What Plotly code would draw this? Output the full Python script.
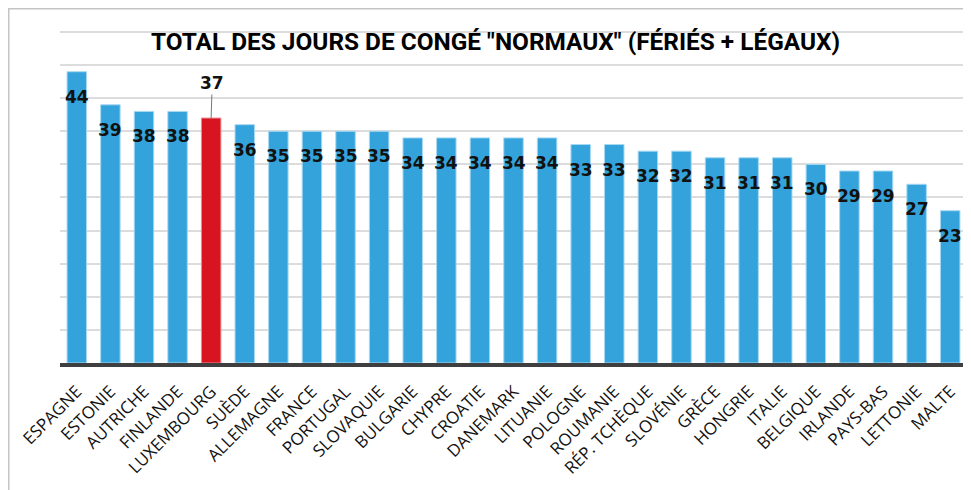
import plotly.graph_objects as go

countries = ["ESPAGNE", "ESTONIE", "AUTRICHE", "FINLANDE", "LUXEMBOURG", "SUÈDE", "ALLEMAGNE",
             "FRANCE", "PORTUGAL", "SLOVAQUIE", "BULGARIE", "CHYPRE", "CROATIE", "DANEMARK",
             "LITUANIE", "POLOGNE", "ROUMANIE", "RÉP. TCHÈQUE", "SLOVÉNIE", "GRÈCE", "HONGRIE",
             "ITALIE", "BELGIQUE", "IRLANDE", "PAYS-BAS", "LETTONIE", "MALTE"]
days = [44, 39, 38, 38, 37, 36, 35, 35, 35, 35, 34, 34, 34, 34, 34, 33, 33, 32, 32, 31, 31,
        31, 30, 29, 29, 27, 23]
highlight = "LUXEMBOURG"
title_text = 'TOTAL DES JOURS DE CONGÉ "NORMAUX" (FÉRIÉS + LÉGAUX)'

BLUE = "#34a3db"
RED = "#d7141f"
colors = [RED if c == highlight else BLUE for c in countries]
line_colors = ["#ee8c93" if c == highlight else "#a6d8f3" for c in countries]

fig = go.Figure(go.Bar(
    x=countries, y=days,
    marker=dict(color=colors, line=dict(color=line_colors, width=1)),
    hoverinfo="x+y",
))

label_font = dict(family="DejaVu Sans", size=17, color="#111111")
annotations = []
for c, v in zip(countries, days):
    if c == highlight:
        annotations.append(dict(x=c, y=v, text=f"<b>{v}</b>", showarrow=True, ax=1, ay=-35,
                                arrowhead=0, arrowwidth=1, arrowcolor="#777777",
                                standoff=0, font=label_font))
    else:
        annotations.append(dict(x=c, y=v, text=f"<b>{v}</b>", showarrow=False, yshift=-25,
                                yanchor="middle", font=label_font))

L, R, T, B = 52, 4, 22, 127
W, H = 963, 482
pw, ph = W - L - R, H - T - B

fig.update_layout(
    width=W, height=H,
    margin=dict(l=L, r=R, t=T, b=B),
    paper_bgcolor="white", plot_bgcolor="white",
    bargap=0.42,
    showlegend=False,
    title=dict(text=f"<b>{title_text}</b>", x=487.5 / W, xanchor="center", xref="container",
               y=1 - 33.5 / H, yanchor="middle", yref="container",
               font=dict(family="Roboto", size=24.4, color="#000000")),
    xaxis=dict(tickangle=-45, showline=True, linecolor="#3f3f3f", linewidth=4,
               tickfont=dict(family="Open Sans", size=17, color="#111111"),
               ticks="", showgrid=False, ticklabelstandoff=8),
    yaxis=dict(range=[0, 50.3], dtick=5, showticklabels=False, showgrid=True,
               gridcolor="#dcdcdc", gridwidth=2, zeroline=False, ticks=""),
    annotations=annotations,
    shapes=[
        dict(type="line", xref="paper", yref="paper", x0=-L / pw, x1=1 + R / pw, y0=1 + T / ph,
             y1=1 + T / ph, line=dict(color="#c4c4c4", width=3)),
        dict(type="line", xref="paper", yref="paper", x0=-L / pw, x1=-L / pw, y0=1 + T / ph,
             y1=-B / ph, line=dict(color="#c4c4c4", width=3)),
    ],
)

fig.write_html("out.html")
